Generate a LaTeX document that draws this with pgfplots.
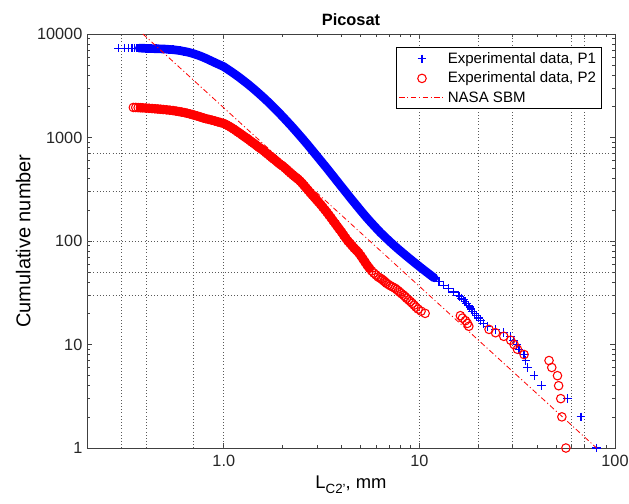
\documentclass[border=0pt]{standalone}
\usepackage{fontspec}
\setmainfont{Liberation Sans}
\usepackage{pgfplots}
\usepackage{pgfplotstable}
\pgfplotsset{compat=1.18}
\definecolor{mblue}{RGB}{0,0,255}
\definecolor{mred}{RGB}{255,0,0}
\pgfplotsset{
  marklegend/.style={legend image code/.code={\draw[mark repeat=2,mark phase=2,##1] plot coordinates {(0cm,0cm) (0.6cm,0cm) (1.2cm,0cm)};}},
  linelegend/.style={legend image code/.code={\draw[##1] (0cm,0cm) -- (1.2cm,0cm);}},
}
% P1: size (mm), cumulative number
\pgfplotstableread{
x N
0.29 7300
0.31 7300
0.325 7300
0.34 7300
0.35 7300
0.36 7300
0.37 7300
0.385 7290
0.40 7260
0.425 7230
0.45 7200
0.475 7180
0.50 7150
0.525 7100
0.55 7050
0.575 6980
0.60 6900
0.625 6800
0.65 6700
0.675 6580
0.70 6450
0.725 6310
0.75 6170
0.775 6020
0.80 5870
0.825 5720
0.85 5570
0.875 5430
0.90 5290
0.925 5170
0.95 5050
0.975 4940
1.000 4831
1.059 4499
1.122 4175
1.189 3860
1.259 3553
1.334 3261
1.413 2979
1.496 2712
1.585 2459
1.679 2221
1.778 1998
1.884 1792
1.995 1600
2.113 1424
2.239 1264
2.371 1118
2.512 986
2.661 868
2.818 761
2.985 666
3.162 583
3.350 510
3.548 445
3.758 388
3.981 338
4.217 295
4.467 257
4.732 225
5.012 197
5.309 173
5.623 153
5.957 136
6.310 121
6.683 109
7.079 98.3
7.499 89.1
7.943 81.1
8.414 74.0
8.913 67.6
9.441 61.9
10.00 56.7
10.59 52.1
11.22 47.9
11.89 44.1
12.59 40.6
13.34 37.5
14.13 34.7
14.96 32.1
15.85 29.8
16.1 29
16.4 28
16.8 27
17.1 26
17.4 25
17.8 24
18.1 23
18.4 22
18.7 21
19.2 20
19.6 19
20.0 18
20.5 17
21.2 16
22.2 15
24.5 14
27.0 13
29.3 12
30.3 11
31.5 10
32.3 9
34.3 8
35.0 7
35.6 6
38.6 5
42.1 4
57.1 3
67 2
80.5 1
}\Pone
% P2: size (mm), cumulative number
\pgfplotstableread{
x N
0.345 1950
0.355 1950
0.365 1945
0.375 1940
0.385 1935
0.40 1925
0.415 1915
0.43 1905
0.445 1895
0.46 1885
0.475 1875
0.49 1865
0.51 1850
0.53 1835
0.55 1820
0.57 1800
0.59 1780
0.61 1760
0.63 1740
0.65 1715
0.67 1690
0.69 1665
0.71 1640
0.73 1615
0.75 1590
0.77 1565
0.79 1540
0.81 1520
0.84 1495
0.87 1470
0.90 1445
0.93 1420
0.96 1395
1.00 1365
1.03 1330
1.06 1290
1.09 1250
1.12 1210
1.15 1170
1.18 1130
1.21 1095
1.24 1060
1.27 1025
1.30 995
1.33 965
1.36 935
1.39 905
1.42 880
1.45 855
1.48 830
1.51 805
1.54 785
1.57 765
1.60 745
1.64 715
1.68 690
1.72 665
1.76 640
1.80 620
1.84 600
1.88 580
1.92 560
1.96 545
2.00 530
2.05 510
2.10 490
2.15 470
2.20 452
2.25 436
2.30 421
2.35 408
2.40 395
2.46 378
2.52 360
2.58 342
2.64 325
2.70 309
2.77 292
2.84 277
2.91 263
2.98 250
3.05 238
3.13 225
3.21 212
3.29 200
3.37 189
3.45 178
3.54 167
3.63 156
3.72 147
3.81 138
3.90 130
4.00 122
4.10 114
4.20 107
4.31 100
4.42 95
4.53 90
4.65 85
4.77 81
4.89 77
5.02 72
5.15 67
5.28 62.5
5.42 58
5.56 54.5
5.70 51.5
5.85 49
6.00 47
6.15 45
6.28 44
6.40 43
6.50 42
6.60 41
6.70 40
6.80 39
6.95 38
7.10 37
7.30 36
7.50 35
7.65 34
7.80 33
7.95 32
8.10 31
8.30 30
8.45 29
8.60 28
8.80 27
9.00 26
9.20 25
9.40 24
9.60 23
9.85 22
10.2 21
10.7 20
16.2 19
16.6 18
17.2 17
17.6 16
17.9 15
22.7 14
24.5 13
27.0 12
29.3 11
30.5 10
31.7 9
34.3 8
46.0 7
47.5 6
50.8 5
51.5 4
52.8 3
53.5 2
56.1 1
}\Ptwo
\begin{document}
\begin{tikzpicture}
\path[use as bounding box] (-65.3pt,-41.3pt) rectangle (406.7pt,336.2pt);
\begin{axis}[
  scale only axis, width=396.2pt, height=310.7pt,
  xmode=log, ymode=log,
  xmin=0.2, xmax=100, ymin=1, ymax=10000,
  clip mode=individual,
  axis line style={black!75, line width=0.6pt},
  tick align=inside, tick pos=both,
  major tick length=3.5pt, minor tick length=2pt,
  every tick/.style={black!75, line width=0.5pt},
  xtick={1,10,100}, xticklabels={1.0,10,100},
  ytick={1,10,100,1000,10000}, yticklabels={1,10,100,1000,10000},
  /pgf/number format/assume math mode=true,
  tick label style={font=\fontsize{12.2}{14}\selectfont, black!85},
  xticklabel style={yshift=-2pt},
  extra x ticks={0.3,0.4,0.7,1,10,20,30,60,70},
  extra x tick labels={},
  extra y ticks={30,50,100,300,700},
  extra y tick labels={},
  extra tick style={grid=major, major tick length=0pt},
  major grid style={dotted, black!65, line width=0.6pt},
  title={\bfseries Picosat},
  title style={font=\fontsize{12.3}{14}\selectfont, yshift=-3pt},
  xlabel={L\raisebox{-0.5ex}{\fontsize{10}{12}\selectfont C2'}, mm},
  xlabel style={font=\fontsize{13.8}{16}\selectfont},
  ylabel={Cumulative number},
  ylabel style={font=\fontsize{15}{17}\selectfont, yshift=-2pt},
  legend style={at={(1,1)}, anchor=north east, xshift=-10pt, yshift=-10pt,
    draw=black, line width=0.6pt, font=\fontsize{11.3}{13}\selectfont,
    cells={anchor=west}, row sep=1pt, inner xsep=2pt, inner ysep=1.5pt},
]
% dense underlay of the overlapping markers (same data); domain in ln(x)
\addplot[mblue, line width=6.5pt, line join=round, line cap=round, forget plot]
  table[x=x, y=N, restrict x to domain=-1.01:2.49] {\Pone};
\addplot[only marks, mark=+, mblue, mark size=3.2pt, mark options={line width=0.9pt}, marklegend]
  table[x=x, y=N] {\Pone};
\addlegendentry{Experimental data, P1}
\addplot[mred, line width=6.5pt, line join=round, line cap=round, forget plot]
  table[x=x, y=N, restrict x to domain=-1.0:1.72] {\Ptwo};
\addplot[only marks, mark=o, mred, mark size=3.2pt, mark options={line width=0.8pt}, marklegend]
  table[x=x, y=N] {\Ptwo};
\addlegendentry{Experimental data, P2}
\addplot[mred, line width=0.6pt, dash pattern=on 4pt off 2pt on 0.8pt off 2pt, linelegend]
coordinates {(0.386,10000) (80.5,1)};
\addlegendentry{NASA SBM}
\end{axis}
\end{tikzpicture}
\end{document}
